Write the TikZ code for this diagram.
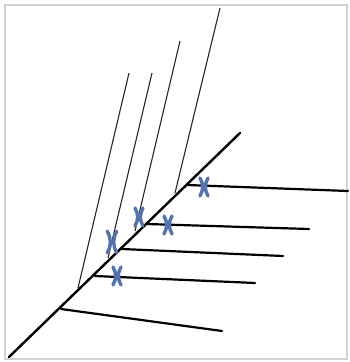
\documentclass[tikz,border=0pt]{standalone}
\usepackage{tikz}
\usetikzlibrary{calc}
\definecolor{chromblue}{RGB}{84,114,172}
\tikzset{
    main axis/.style={line width=2.4pt,line cap=round},
    branch/.style={line width=2.2pt,line cap=round},
    stalk/.style={line width=1.1pt,black!85},
    chromosome/.pic={
        \draw[chromblue,line width=3.4pt,line cap=round]
            (-4,-9) .. controls (-0.5,-3) and (-0.5,3) .. (-4,9)
            (4,-9) .. controls (0.5,-3) and (0.5,3) .. (4,9);
    }
}
\begin{document}
\begin{tikzpicture}[x=1pt,y=-1pt]
\useasboundingbox (0,0) rectangle (350,362);
\draw[gray!35,line width=1.3pt] (5,5) rectangle (347,359);
% stalks going up
\foreach \i/\bx/\by/\tx/\ty in {1/78/288/129/73,2/108/258/152/73,3/135/231/180/41,4/175/193/220/8}{
    \coordinate (base\i) at (\bx,\by);
    \coordinate (top\i) at (\tx,\ty);
    \draw[stalk] (base\i) -- (top\i);
}
% main axis
\coordinate (root) at (9,357);
\coordinate (tip) at (240,133);
\draw[main axis] (root) -- (tip);
% branches to the right
\foreach \i/\sx/\sy/\ex/\ey in {1/61/309/222/331,2/95/276/255/283,3/122/249/283/256,4/147/224/309/229,5/187/185/348/191}{
    \coordinate (start\i) at (\sx,\sy);
    \coordinate (end\i) at (\ex,\ey);
    \draw[branch] (start\i) -- (end\i);
}
% chromosomes
\pic at (117,276) {chromosome};
\pic[scale=1.2] at (112,242) {chromosome};
\pic at (139,217) {chromosome};
\pic at (168,225) {chromosome};
\pic at (204,187) {chromosome};
\end{tikzpicture}
\end{document}
